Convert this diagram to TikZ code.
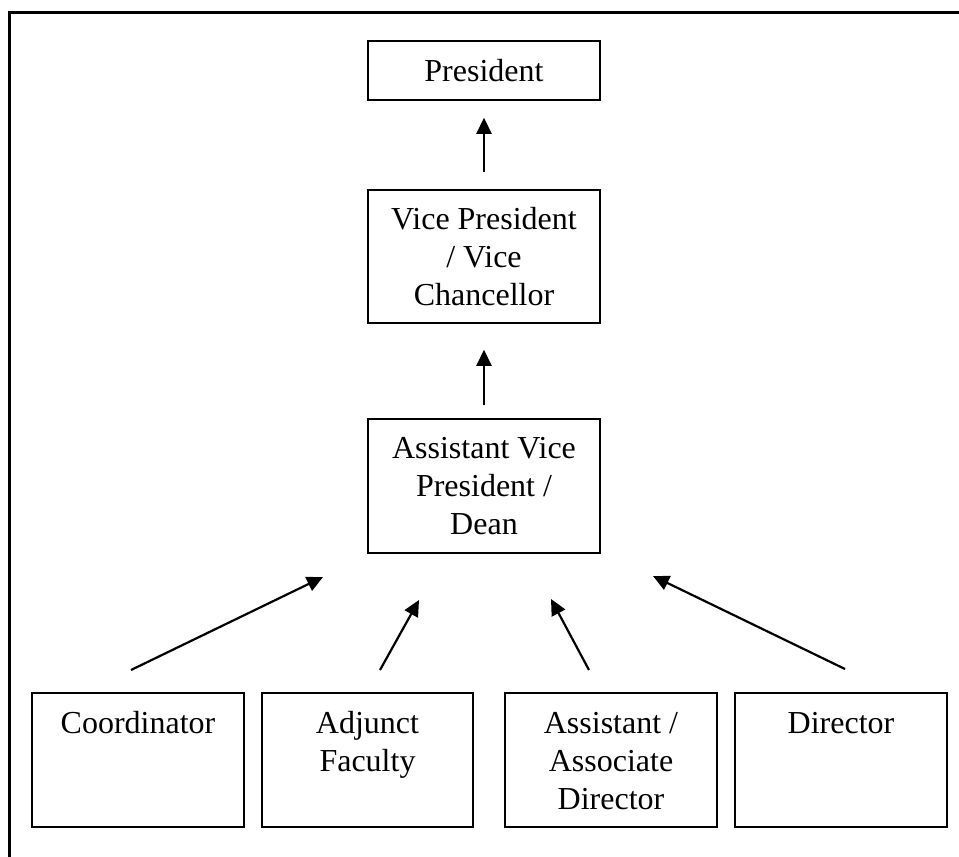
\documentclass[tikz,border=0pt]{standalone}
\usepackage{fontspec}
\setmainfont{Liberation Serif}
\usetikzlibrary{arrows.meta}
\begin{document}
\begin{tikzpicture}[x=1pt,y=-1pt,
  box/.style={draw, line width=1.5pt, inner sep=0pt},
  lbl/.style={inner sep=0pt, align=center, font=\fontsize{32}{38}\selectfont},
  arr/.style={line width=2.2pt, -{Triangle[length=16pt,width=15pt]}}]
\useasboundingbox (0,0) rectangle (959,857);
\draw[line width=3pt] (9,862) -- (9,12) -- (964,12);
% upper boxes
\node[box, lbl, minimum width=232pt, minimum height=59pt] (pres) at (484,70.5) {President};
\node[box, lbl, minimum width=232pt, minimum height=133pt] (vp) at (484,256.5) {Vice President\\/ Vice\\Chancellor};
\node[box, lbl, minimum width=232pt, minimum height=134pt] (avp) at (484,486) {Assistant Vice\\President /\\Dean};
% lower boxes
\node[box, minimum width=212pt, minimum height=134pt] (coord) at (138,760) {};
\node[box, minimum width=211pt, minimum height=134pt] (adj) at (367.5,760) {};
\node[box, minimum width=212pt, minimum height=134pt] (asst) at (611,760) {};
\node[box, minimum width=212pt, minimum height=134pt] (dir) at (841,760) {};
\node[lbl, anchor=north] (coordt) at ([yshift=-14.4pt]coord.north) {\strut Coordinator};
\node[lbl, anchor=north] (adjt) at ([yshift=-14.4pt]adj.north) {\strut Adjunct\\Faculty};
\node[lbl, anchor=north] (asstt) at ([yshift=-14.4pt]asst.north) {\strut Assistant /\\Associate\\Director};
\node[lbl, anchor=north] (dirt) at ([yshift=-14.4pt]dir.north) {\strut Director};
% vertical arrows
\draw[arr, shorten <=17pt, shorten >=17pt] (vp) -- (pres);
\draw[arr, shorten <=13pt, shorten >=26pt] (avp.north) -- (vp.south);
% diagonal arrows
\coordinate (t1) at (131,670); \coordinate (h1) at (323,577);
\coordinate (t2) at (380,670); \coordinate (h2) at (419,600);
\coordinate (t3) at (589,670); \coordinate (h3) at (551,599);
\coordinate (t4) at (845,669); \coordinate (h4) at (653,576);
\draw[arr] (t1) -- (h1);
\draw[arr] (t2) -- (h2);
\draw[arr] (t3) -- (h3);
\draw[arr] (t4) -- (h4);
\end{tikzpicture}
\end{document}
